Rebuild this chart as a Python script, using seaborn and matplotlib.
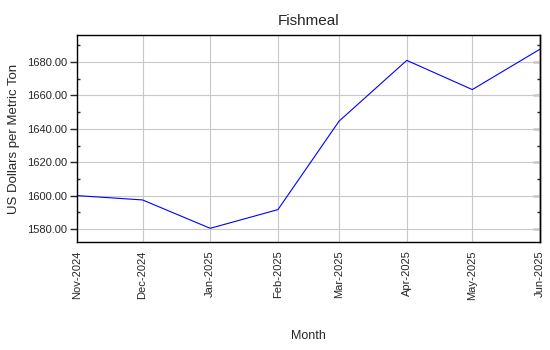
import matplotlib
matplotlib.use("Agg")
import matplotlib.pyplot as plt
from matplotlib.ticker import MultipleLocator, FormatStrFormatter, NullFormatter
import seaborn as sns
import pandas as pd

months = ["2024-11-01", "2024-12-01", "2025-01-01", "2025-02-01",
          "2025-03-01", "2025-04-01", "2025-05-01", "2025-06-01"]
prices = [1600.0, 1597.4, 1580.4, 1591.6, 1644.6, 1681.0, 1663.5, 1687.7]
tick_labels = ["Nov-2024", "Dec-2024", "Jan-2025", "Feb-2025",
               "Mar-2025", "Apr-2025", "May-2025", "Jun-2025"]

df = pd.DataFrame({"Month": pd.to_datetime(months), "Price": prices})

sns.set_style("white")
plt.rcParams["font.family"] = ["Liberation Sans", "DejaVu Sans"]

fig = plt.figure(figsize=(5.5, 3.5), dpi=100)
ax = fig.add_axes([77/550, 1 - 242/350, (540 - 77)/550, (242 - 35)/350])

sns.lineplot(data=df, x="Month", y="Price", ax=ax, color="#0000ff", linewidth=0.8)

ax.set_xlim(df["Month"].iloc[0], df["Month"].iloc[-1])
ax.set_ylim(1572.2, 1696.2)
ax.set_xticks(df["Month"])
ax.set_xticklabels(tick_labels, rotation=90, fontsize=8)
ax.yaxis.set_major_locator(MultipleLocator(20))
ax.yaxis.set_minor_locator(MultipleLocator(10))
ax.yaxis.set_major_formatter(FormatStrFormatter("%.2f"))
ax.tick_params(axis="y", labelsize=8)

ax.grid(True, which="major", color="#c8c8c8", linewidth=0.8)
for s in ax.spines.values():
    s.set_visible(True)
    s.set_color("black")
    s.set_linewidth(1.0)

ax.tick_params(axis="x", which="major", direction="in", length=5, width=1, pad=6)
ax.tick_params(axis="y", which="major", direction="out", length=5, width=1, left=True, right=False, pad=2)
ax.tick_params(axis="y", which="minor", direction="in", length=2.5, width=1, left=True, right=False)

sec = ax.secondary_yaxis("right")
sec.yaxis.set_major_locator(MultipleLocator(20))
sec.yaxis.set_minor_locator(MultipleLocator(10))
sec.yaxis.set_major_formatter(NullFormatter())
sec.yaxis.set_minor_formatter(NullFormatter())
sec.tick_params(which="major", direction="in", length=5, width=1)
sec.tick_params(which="minor", direction="in", length=2.5, width=1)
sec.spines["right"].set_linewidth(1.0)
sec.spines["right"].set_color("black")

ax.set_title("Fishmeal", fontsize=11, pad=7)
ax.set_xlabel("Month", fontsize=9, labelpad=22)
ax.set_ylabel("US Dollars per Metric Ton", fontsize=9.5, labelpad=5)

fig.savefig("out.png", dpi=100)
